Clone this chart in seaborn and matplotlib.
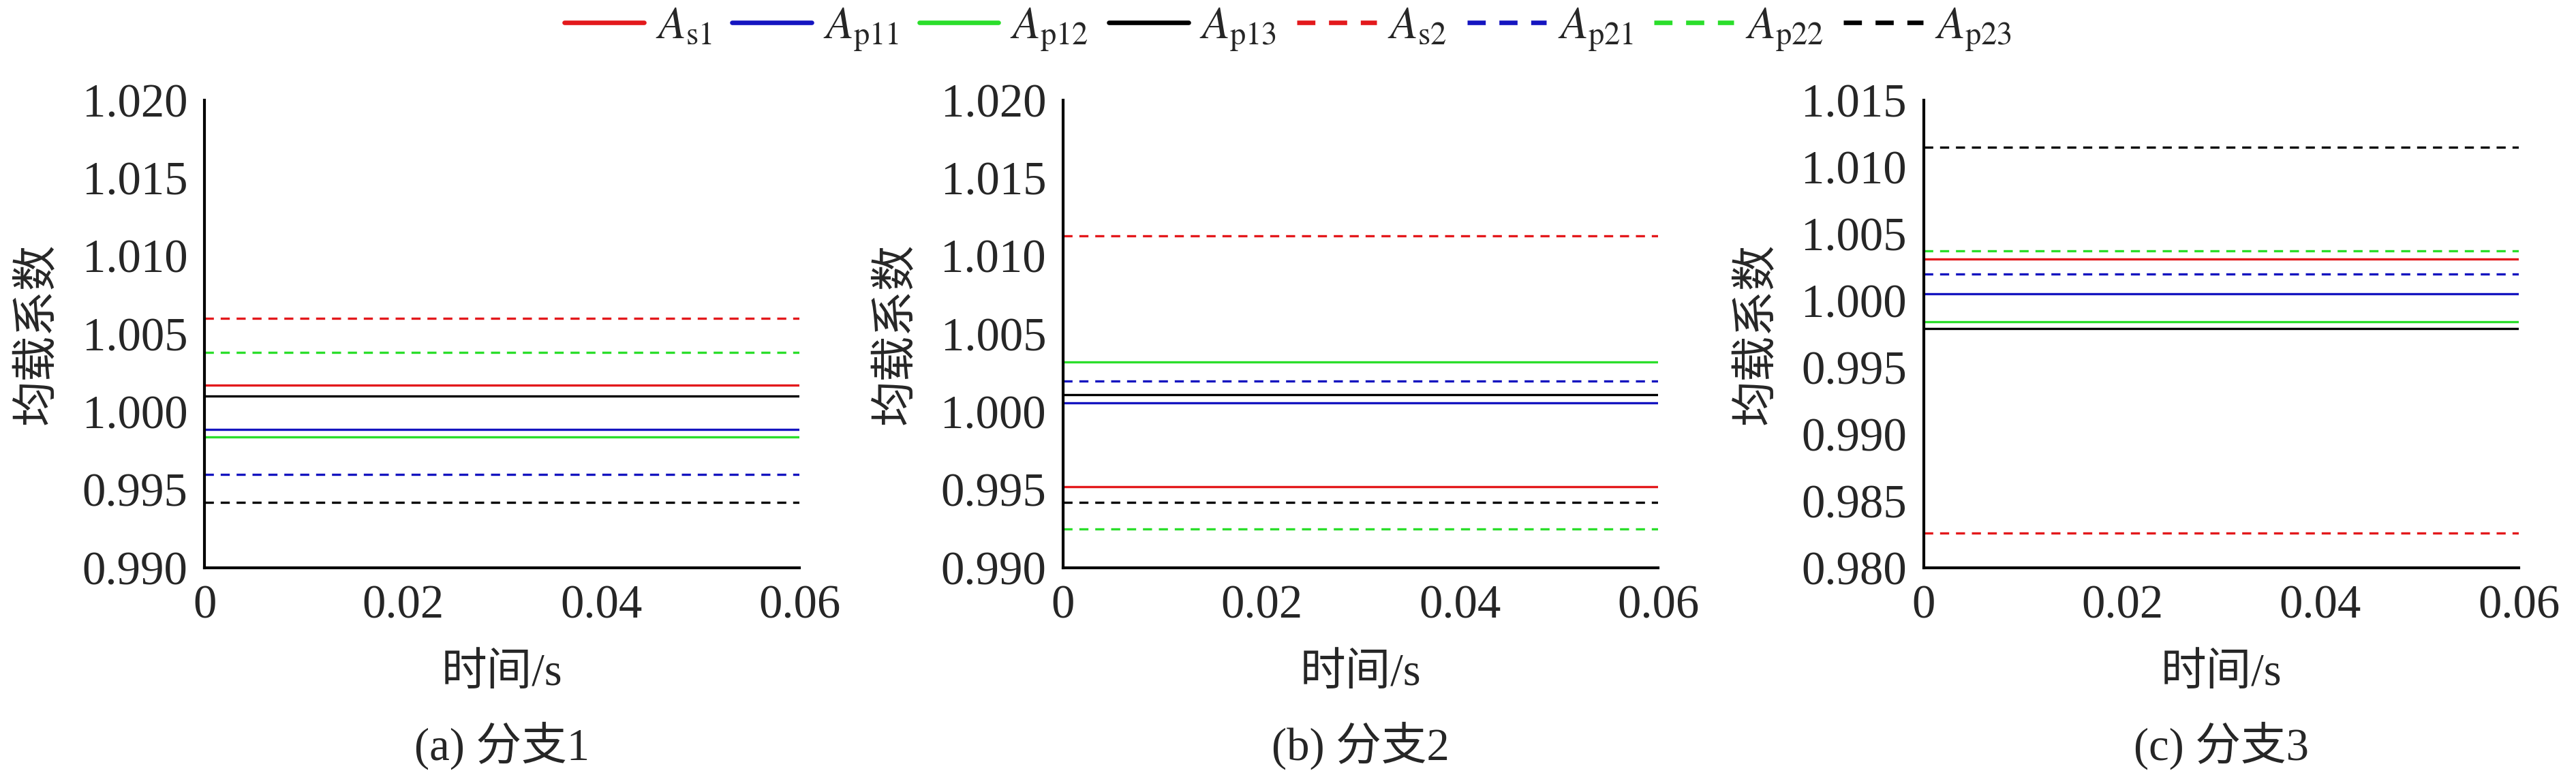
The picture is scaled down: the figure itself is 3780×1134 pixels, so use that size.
import numpy as np
import pandas as pd
import matplotlib
matplotlib.use("Agg")
import matplotlib.pyplot as plt
import seaborn as sns

# time span of the simulation (s)
time = [0.0, 0.06]

series = ["As1", "Ap11", "Ap12", "Ap13", "As2", "Ap21", "Ap22", "Ap23"]
labels = [r"$A_{\rm s1}$", r"$A_{\rm p11}$", r"$A_{\rm p12}$", r"$A_{\rm p13}$",
          r"$A_{\rm s2}$", r"$A_{\rm p21}$", r"$A_{\rm p22}$", r"$A_{\rm p23}$"]

# load sharing coefficient of each branch (constant over time)
branch1 = [1.0017, 0.9989, 0.9984, 1.0010, 1.0060, 0.9960, 1.0038, 0.9942]
branch2 = [0.9952, 1.0006, 1.0032, 1.0011, 1.0113, 1.0020, 0.9925, 0.9942]
branch3 = [1.0031, 1.0005, 0.9984, 0.9979, 0.9826, 1.0020, 1.0037, 1.0115]

yticks1 = [0.990, 0.995, 1.000, 1.005, 1.010, 1.015, 1.020]
yticks2 = [0.990, 0.995, 1.000, 1.005, 1.010, 1.015, 1.020]
yticks3 = [0.980, 0.985, 0.990, 0.995, 1.000, 1.005, 1.010, 1.015]
xticks = [0, 0.02, 0.04, 0.06]
xticklabels = ["0", "0.02", "0.04", "0.06"]
captions = ["(a) 分支1", "(b) 分支2", "(c) 分支3"]

colors = ["#E3191C", "#1515C0", "#2BDE2B", "#000000"] * 2
solid = [True] * 4 + [False] * 4

sns.set_style("white")
plt.rcParams["font.family"] = ["Liberation Serif", "Noto Sans CJK SC"]
plt.rcParams["mathtext.fontset"] = "stix"
plt.rcParams["axes.unicode_minus"] = False

fig = plt.figure(figsize=(12.6, 3.78), dpi=300)
lefts = [0.0794, 0.4127, 0.7468]
fs_tick = 16.5
fs_lab = 16

for i, (vals, yt) in enumerate(zip([branch1, branch2, branch3], [yticks1, yticks2, yticks3])):
    ax = fig.add_axes([lefts[i], 0.2654, 0.231, 0.605])
    for name, v, c, s in zip(series, vals, colors, solid):
        df = pd.DataFrame({"t": time, "k": [v] * len(time)})
        sns.lineplot(data=df, x="t", y="k", color=c, lw=0.8, ax=ax, label=name)
        if not s:
            ax.lines[-1].set_dashes((4.0, 3.0))
    ax.get_legend().remove()
    ax.set_xlim(0, 0.06)
    ax.set_ylim(yt[0], yt[-1])
    ax.set_yticks(yt)
    ax.set_yticklabels([f"{y:.3f}" for y in yt], fontsize=fs_tick)
    ax.set_xticks(xticks)
    ax.set_xticklabels(xticklabels, fontsize=fs_tick)
    ax.tick_params(direction="in", length=4, width=1.0, pad=6)
    for sp in ["top", "right"]:
        ax.spines[sp].set_visible(False)
    for sp in ["left", "bottom"]:
        ax.spines[sp].set_linewidth(1.0)
        ax.spines[sp].set_color("black")
    ax.set_xlabel("时间/s", fontsize=fs_lab)
    ax.xaxis.set_label_coords(0.5, -0.226)
    ax.xaxis.label.set_va("center")
    ax.set_ylabel("均载系数", fontsize=fs_lab)
    ax.yaxis.set_label_coords(-0.28, 0.5)
    ax.yaxis.label.set_va("center")
    ax.text(0.5, -0.38, captions[i], transform=ax.transAxes, ha="center", va="center", fontsize=fs_lab)
    if i == 0:
        handles = ax.lines[:8]

leg = fig.legend(handles, labels, loc="center", bbox_to_anchor=(0.5, 0.962), ncol=8, frameon=False,
                 fontsize=16, handlelength=1.75, handletextpad=0.25, columnspacing=0.45)
for h in leg.get_lines():
    h.set_linewidth(1.6)

fig.savefig("out.png", dpi=300)
